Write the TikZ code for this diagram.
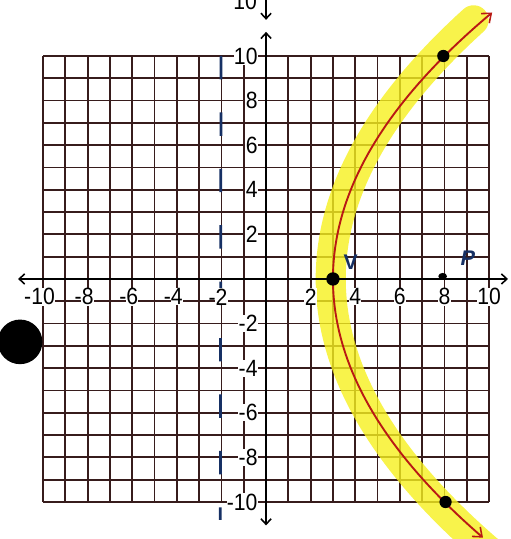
\documentclass[tikz,border=0pt]{standalone}
\usepackage{fontspec}
\setmainfont{Liberation Sans}
\usepackage{tikz}
\usetikzlibrary{arrows.meta, positioning}
\definecolor{gridbrown}{RGB}{55,28,28}
\definecolor{dirblue}{RGB}{22,48,100}
\definecolor{curvered}{RGB}{185,25,20}
\definecolor{hiyellow}{RGB}{246,240,30}

\begin{document}
\begin{tikzpicture}[
    gridline/.style={draw=gridbrown, line width=2.3pt},
    axis/.style={draw=black, line width=2.6pt, {Straight Barb[length=7pt, width=13pt, line width=2pt]}-{Straight Barb[length=7pt, width=13pt, line width=2pt]}},
    num/.style={font=\fontsize{30}{32}\selectfont, fill=white, inner sep=0.5pt, xscale=0.9},
    ptdot/.style={circle, fill=black, inner sep=0pt, minimum size=0.6cm},
    directrix/.style={draw=dirblue, line width=3.5pt, dash pattern=on 1.05cm off 1.48cm},
    curve/.style={draw=curvered, line width=2.4pt, {Straight Barb[length=10pt, width=16pt, line width=2pt]}-{Straight Barb[length=10pt, width=16pt, line width=2pt]}},
    marker/.style={draw=hiyellow, line width=1.35cm, line cap=round, opacity=0.8},
    letter/.style={text=dirblue, font=\bfseries\fontsize{27}{29}\selectfont, inner sep=0pt}
]
\useasboundingbox (-11.93,-11.66) rectangle (10.94,12.51);
\clip (-11.93,-11.66) rectangle (10.94,12.51);

\draw[gridline] (-10,-10) grid (10,10);

\draw[marker] plot[domain=-12.8:11.6, samples=80] ({2.9+\x*\x/21}, {\x});

\coordinate (xleft) at (-11.12,0);
\coordinate (xright) at (10.85,0);
\coordinate (ybottom) at (0,-11.05);
\coordinate (ytop) at (0,11.08);
\draw[axis] (xleft) -- (xright);
\draw[axis] (ybottom) -- (ytop);

\coordinate (oldtop) at (0,12.6);
\coordinate (oldtip) at (0,11.62);
\draw[draw=black, line width=2.6pt, -{Straight Barb[length=7pt, width=13pt, line width=2pt]}] (oldtop) -- (oldtip);
\node[num, fill=none] (oldlabel) at (-0.94,12.45) {10};

\coordinate (dirtop) at (-2.02,10);
\coordinate (dirbottom) at (-2.05,-10.8);
\draw[directrix] (dirtop) -- (dirbottom);

\foreach \v in {-10,-8,-6,-4,-2,2,4,6,8,10} {
    \node[num] (x\v) at (\v,-0.8) {\ifnum\v<0 \llap{-}\number-\v\else\v\fi};
    \node[num, anchor=east] (y\v) at (-0.36,\v) {\v};
}

\draw[curve] plot[domain=-11.6:11.95, samples=90] ({3+\x*\x/20}, {\x});

\node[ptdot] (vertex) at (3,0) {};
\node[ptdot, minimum size=0.55cm] (upper) at (7.95,10) {};
\node[ptdot, minimum size=0.55cm] (lower) at (8.05,-10) {};
\node[ptdot, minimum size=0.3cm, xscale=1.3] (focus) at (7.92,0.12) {};

\node[letter] (vlabel) at (3.8,0.75) {V};
\node[letter, xslant=0.2] (plabel) at (9.06,0.95) {P};

\fill (-11.03,-2.82) circle (1.0);
\end{tikzpicture}
\end{document}
